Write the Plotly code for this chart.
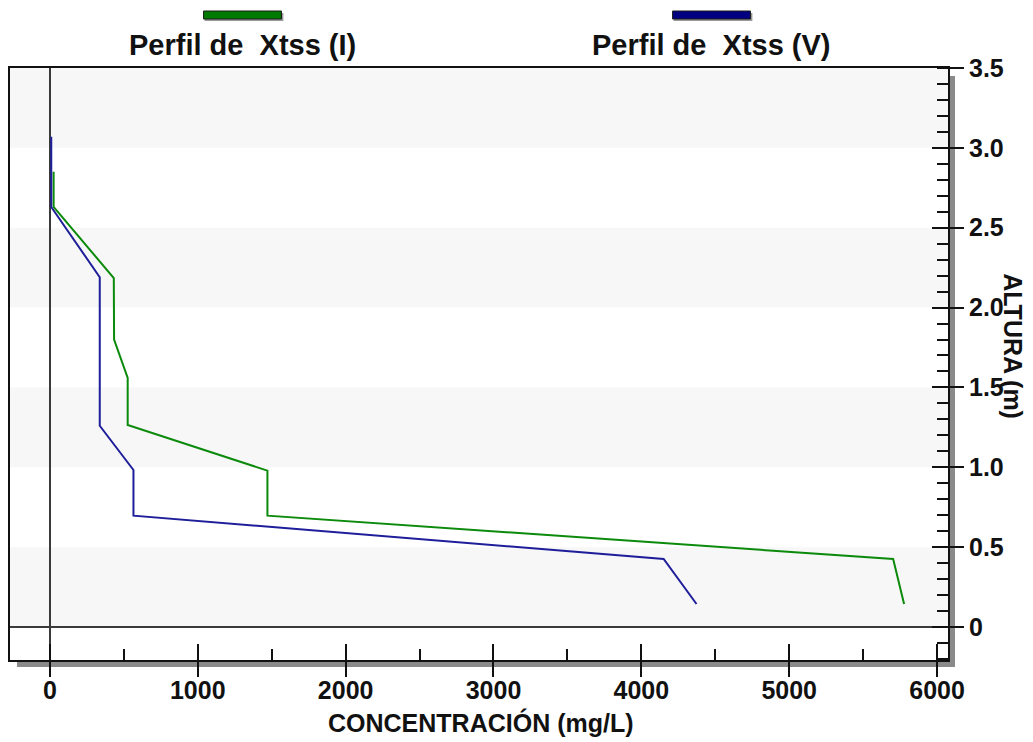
import plotly.graph_objects as go

# ---- data ----
conc_I = [25, 25, 432, 434, 526, 526, 1471, 1471, 5703, 5777]
alt_I = [2.85, 2.63, 2.185, 1.80, 1.56, 1.265, 0.979, 0.697, 0.426, 0.144]

conc_V = [9, 9, 337, 337, 565, 565, 4151, 4373]
alt_V = [3.07, 2.63, 2.19, 1.26, 0.983, 0.697, 0.426, 0.144]

series_names = ["Perfil de\u00a0 Xtss (I)", "Perfil de\u00a0 Xtss (V)"]
series_colors = ["#0b8a0b", "#1e1e9a"]
swatch_colors = ["#007a00", "#000080"]

y_tickvals = [0, 0.5, 1.0, 1.5, 2.0, 2.5, 3.0, 3.5]
y_ticktext = ["0", "0.5", "1.0", "1.5", "2.0", "2.5", "3.0", "3.5"]
x_tickvals = [0, 1000, 2000, 3000, 4000, 5000, 6000]
x_ticktext = ["0", "1000", "2000", "3000", "4000", "5000", "6000"]
band_edges = [(0.0, 0.5), (1.0, 1.5), (2.0, 2.5), (3.0, 3.5)]

X_RANGE = [-270, 6074]
Y_RANGE = [-0.2066, 3.5]

FONT = "Liberation Sans"
W, H = 1033, 742
L, R, T, B = 8, 85, 68, 82
PW, PH = W - L - R, H - T - B


def px2paper(px, py):
    return (px - L) / PW, (H - B - py) / PH


fig = go.Figure()

fig.add_trace(go.Scatter(x=conc_I, y=alt_I, mode="lines", name=series_names[0],
                         line=dict(color=series_colors[0], width=2), showlegend=False))
fig.add_trace(go.Scatter(x=conc_V, y=alt_V, mode="lines", name=series_names[1],
                         line=dict(color=series_colors[1], width=2), showlegend=False))
# empty helper trace so the overlay axes (crossing tick marks) are always drawn
fig.add_trace(go.Scatter(x=[], y=[], xaxis="x2", yaxis="y2", showlegend=False,
                         hoverinfo="skip"))

shapes = []
# alternating background bands
for y0, y1 in band_edges:
    shapes.append(dict(type="rect", xref="paper", yref="y", x0=0, x1=1, y0=y0, y1=y1,
                       fillcolor="#f7f7f7", line=dict(width=0), layer="below"))

# drop shadow of frame
sx0, sy0 = px2paper(948, 76)
sx1, sy1 = px2paper(955, 667)
shapes.append(dict(type="rect", xref="paper", yref="paper", x0=sx0 + 0.001, x1=sx1, y0=sy1, y1=sy0,
                   fillcolor="#8a8a8a", line=dict(width=0), layer="below"))
bx0, by0 = px2paper(15, 661)
bx1, by1 = px2paper(955, 667)
shapes.append(dict(type="rect", xref="paper", yref="paper", x0=bx0, x1=bx1, y0=by1, y1=by0,
                   fillcolor="#8a8a8a", line=dict(width=0), layer="below"))

# legend swatches and labels
annotations = []
centers = [241, 711]
for name, col, cx in zip(series_names, swatch_colors, centers):
    # shadow
    a0, b0 = px2paper(cx - 38, 13)
    a1, b1 = px2paper(cx + 41, 21)
    shapes.append(dict(type="rect", xref="paper", yref="paper", x0=a0, x1=a1, y0=b1, y1=b0,
                       fillcolor="#9a9a9a", line=dict(width=0)))
    a0, b0 = px2paper(cx - 39, 11)
    a1, b1 = px2paper(cx + 39, 19)
    shapes.append(dict(type="rect", xref="paper", yref="paper", x0=a0, x1=a1, y0=b1, y1=b0,
                       fillcolor=col, line=dict(color="#1a1a1a", width=1)))
    tx, ty = px2paper(cx, 45)
    annotations.append(dict(text=name, xref="paper", yref="paper", x=tx, y=ty,
                            xanchor="center", yanchor="middle", showarrow=False,
                            font=dict(family=FONT, size=29, color="#111111", weight="bold")))

# axis titles
tx, ty = px2paper(480, 722)
annotations.append(dict(text="CONCENTRACIÓN (mg/L)", xref="paper", yref="paper", x=tx, y=ty,
                        xanchor="center", yanchor="middle", showarrow=False,
                        font=dict(family=FONT, size=25, color="#111111", weight="bold")))
tx, ty = px2paper(1013, 346)
annotations.append(dict(text="ALTURA (m)", xref="paper", yref="paper", x=tx, y=ty,
                        xanchor="center", yanchor="middle", showarrow=False, textangle=90,
                        font=dict(family=FONT, size=25, color="#111111", weight="bold")))

tickfont = dict(family=FONT, size=25, color="#111111", weight="bold")

fig.update_layout(
    width=W, height=H,
    margin=dict(l=L, r=R, t=T, b=B, pad=0),
    paper_bgcolor="white", plot_bgcolor="white",
    shapes=shapes, annotations=annotations,
    showlegend=False,
    xaxis=dict(range=X_RANGE, tickmode="array", tickvals=x_tickvals, ticktext=x_ticktext,
               ticks="inside", ticklen=16, tickwidth=2, tickcolor="#111111",
               minor=dict(ticks="inside", dtick=500, tick0=0, ticklen=11, tickwidth=2,
                          tickcolor="#111111", showgrid=False),
               showgrid=False, zeroline=True, zerolinecolor="#3a3a3a", zerolinewidth=2,
               showline=True, linecolor="#111111", linewidth=2, mirror=True,
               tickfont=tickfont, ticklabelstandoff=7),
    xaxis2=dict(range=X_RANGE, overlaying="x", anchor="y2", side="bottom",
                tickmode="array", tickvals=x_tickvals, ticks="outside", ticklen=16,
                tickwidth=2, tickcolor="#111111", showticklabels=False,
                showgrid=False, zeroline=False, showline=False),
    yaxis=dict(range=Y_RANGE, side="right", tickmode="array", tickvals=y_tickvals,
               ticktext=y_ticktext, ticks="outside", ticklen=14, tickwidth=2,
               tickcolor="#111111",
               minor=dict(ticks="inside", dtick=0.1, tick0=0, ticklen=11, tickwidth=2,
                          tickcolor="#111111", showgrid=False),
               showgrid=False, zeroline=True, zerolinecolor="#3a3a3a", zerolinewidth=2,
               showline=True, linecolor="#111111", linewidth=2, mirror=True,
               tickfont=tickfont),
    yaxis2=dict(range=Y_RANGE, overlaying="y", anchor="x2", side="right",
                tickmode="array", tickvals=y_tickvals, ticks="inside", ticklen=16,
                tickwidth=2, tickcolor="#111111", showticklabels=False,
                showgrid=False, zeroline=False, showline=False),
)

fig.write_html("out.html")
